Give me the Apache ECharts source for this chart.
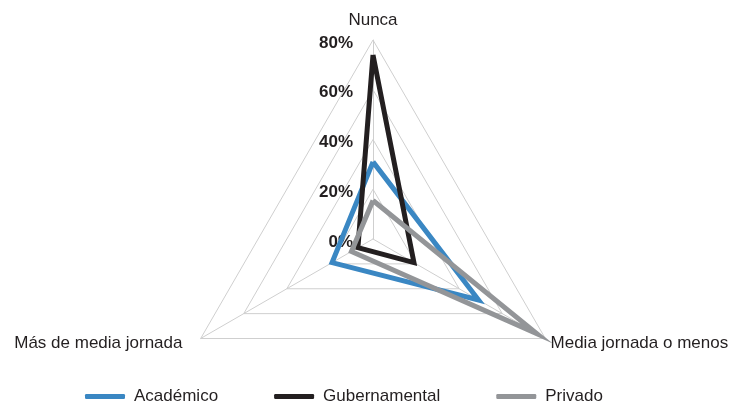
<!DOCTYPE html>
<html>
<head>
<meta charset="utf-8">
<script src="https://cdn.jsdelivr.net/npm/echarts@6/dist/echarts.min.js"></script>
<style>
html,body{margin:0;padding:0;background:#fff;}
#chart{width:734px;height:407px;}
</style>
</head>
<body>
<div id="chart"></div>
<script>
// Indicators listed counter-clockwise from the top (ECharts radar order)
var indicators = ['Nunca', 'Más de media jornada', 'Media jornada o menos'];
var seriesNames = ['Académico', 'Gubernamental', 'Privado'];
var academico = [31, 19, 49];
var gubernamental = [74, 7, 19];
var privado = [15.5, 10, 76];
var maxValue = 80;
var colors = ['#3a87c3', '#231f20', '#939598'];

var FONT = '"Liberation Sans", Arial, sans-serif';
var chart = echarts.init(document.getElementById('chart'));
var values = [academico, gubernamental, privado];
var nameStyles = ['t', 'l', 'r'];

chart.setOption({
  animation: false,
  color: colors,
  legend: {
    data: seriesNames,
    top: 383,
    left: 80,
    itemGap: 56,
    itemWidth: 40,
    itemHeight: 5,
    icon: 'roundRect',
    textStyle: { fontFamily: FONT, fontSize: 17, color: '#231f20', padding: [0, 0, 0, 4] }
  },
  radar: {
    center: [373, 239],
    radius: 199,
    startAngle: 90,
    shape: 'polygon',
    splitNumber: 4,
    nameGap: 6,
    axisName: {
      fontFamily: FONT, fontSize: 17, color: '#231f20',
      formatter: function (name) {
        return '{' + nameStyles[indicators.indexOf(name)] + '|' + name + '}';
      },
      rich: {
        t: { fontFamily: FONT, fontSize: 17, color: '#231f20', padding: [0, 0, 5, 0] },
        l: { fontFamily: FONT, fontSize: 17, color: '#231f20', padding: [4, 13, 0, 0] },
        r: { fontFamily: FONT, fontSize: 17, color: '#231f20', padding: [4, 0, 0, 0] }
      }
    },
    axisLine: { lineStyle: { color: '#cfcfcf', width: 1 } },
    splitLine: { lineStyle: { color: '#cfcfcf', width: 1 } },
    splitArea: { show: false },
    axisLabel: { show: false },
    indicator: indicators.map(function (n, i) {
      var o = { name: n, min: 0, max: maxValue };
      if (i === 0) {
        o.axisLabel = {
          show: true,
          fontFamily: FONT, fontSize: 17, fontWeight: 'bold', color: '#231f20',
          margin: 20,
          formatter: function (v) { return '{p|' + v + '%}'; },
          rich: {
            p: { fontFamily: FONT, fontSize: 17, fontWeight: 'bold', color: '#231f20', padding: [6, 0, 0, 0] }
          }
        };
      }
      return o;
    })
  },
  series: [{
    type: 'radar',
    symbol: 'none',
    data: values.map(function (v, i) {
      return {
        name: seriesNames[i],
        value: v,
        lineStyle: { width: 5, color: colors[i], join: 'miter' },
        itemStyle: { color: colors[i] }
      };
    })
  }]
});
</script>
</body>
</html>
